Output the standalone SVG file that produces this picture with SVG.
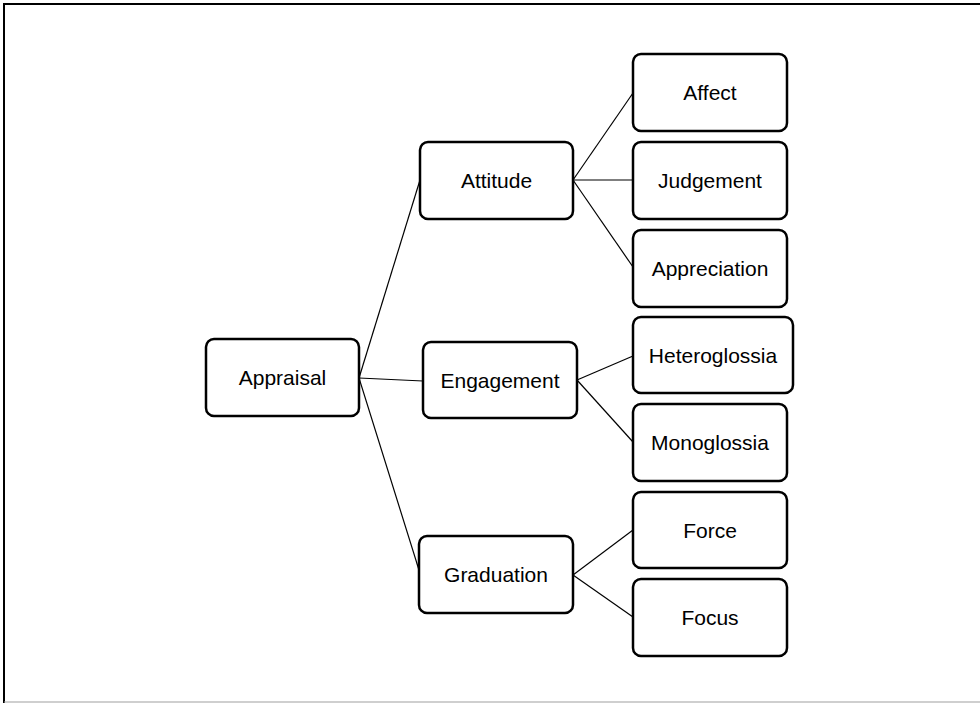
<svg xmlns="http://www.w3.org/2000/svg" width="980" height="703" viewBox="0 0 980 703">
<style>
.box{fill:#fff;stroke:#000;stroke-width:2.5}
.lbl{font-family:"Liberation Sans",Arial,sans-serif;font-size:21px;fill:#000;text-anchor:middle}
.con line{stroke:#000;stroke-width:1.2}
</style>
<rect width="980" height="703" fill="#fff"/>
<path d="M4,703 V4 H982" fill="none" stroke="#000" stroke-width="2"/>
<line x1="4" y1="702" x2="980" y2="702" stroke="#a0a0a0" stroke-width="1.2"/>
<g id="connectors" class="con">
<line x1="359" y1="378" x2="420" y2="180"/>
<line x1="359" y1="378" x2="423" y2="381"/>
<line x1="359" y1="378" x2="419" y2="570"/>
<line x1="573" y1="180" x2="633" y2="93"/>
<line x1="573" y1="180" x2="633" y2="180"/>
<line x1="573" y1="180" x2="633" y2="267"/>
<line x1="577" y1="380" x2="633" y2="356"/>
<line x1="577" y1="380" x2="633" y2="442"/>
<line x1="573" y1="575" x2="633" y2="530"/>
<line x1="573" y1="575" x2="633" y2="617"/>
</g>
<g id="appraisal"><rect class="box" x="206" y="339" width="153" height="77" rx="8"/><text class="lbl" x="282.5" y="385">Appraisal</text></g>
<g id="attitude"><rect class="box" x="420" y="142" width="153" height="77" rx="8"/><text class="lbl" x="496.5" y="188">Attitude</text></g>
<g id="engagement"><rect class="box" x="423" y="342" width="154" height="76" rx="8"/><text class="lbl" x="500" y="387.5">Engagement</text></g>
<g id="graduation"><rect class="box" x="419" y="536" width="154" height="77" rx="8"/><text class="lbl" x="496" y="582">Graduation</text></g>
<g id="affect"><rect class="box" x="633" y="54" width="154" height="77" rx="8"/><text class="lbl" x="710" y="100">Affect</text></g>
<g id="judgement"><rect class="box" x="633" y="142" width="154" height="77" rx="8"/><text class="lbl" x="710" y="188">Judgement</text></g>
<g id="appreciation"><rect class="box" x="633" y="230" width="154" height="77" rx="8"/><text class="lbl" x="710" y="276">Appreciation</text></g>
<g id="heteroglossia"><rect class="box" x="633" y="317" width="160" height="76" rx="8"/><text class="lbl" x="713" y="362.5">Heteroglossia</text></g>
<g id="monoglossia"><rect class="box" x="633" y="404" width="154" height="77" rx="8"/><text class="lbl" x="710" y="450">Monoglossia</text></g>
<g id="force"><rect class="box" x="633" y="492" width="154" height="76" rx="8"/><text class="lbl" x="710" y="537.5">Force</text></g>
<g id="focus"><rect class="box" x="633" y="579" width="154" height="77" rx="8"/><text class="lbl" x="710" y="625">Focus</text></g>
</svg>
